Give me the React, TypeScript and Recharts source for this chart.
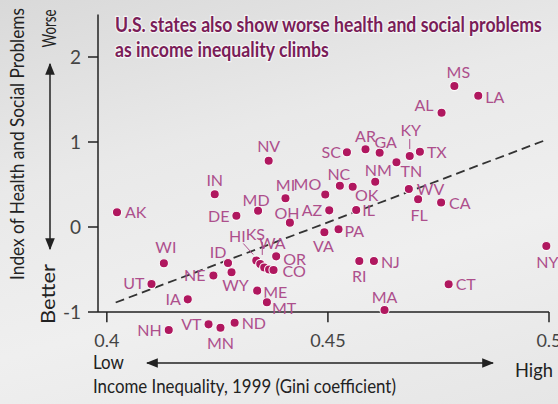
import React, { useLayoutEffect, useRef, useState } from 'react';
import { ScatterChart, Scatter, XAxis, YAxis, ReferenceLine } from 'recharts';

// ---------- data ----------
const states = [
  'AK', 'WI', 'UT', 'IA', 'NE', 'NH', 'VT', 'MN', 'ND', 'ID', 'WY', 'DE', 'IN', 'NV', 'MD', 'MI', 'OH',
  'MO', 'AZ', 'NC', 'OK', 'IL', 'SC', 'AR', 'GA', 'NM', 'TN', 'KY', 'TX', 'WV', 'FL', 'CA', 'PA', 'VA',
  'RI', 'NJ', 'CT', 'MA', 'NY', 'MS', 'LA', 'AL', 'ME', 'MT', 'HI', 'KS', 'WA', 'SD', 'CO', 'OR',
];
const gini = [
  0.4023, 0.4129, 0.4101, 0.4183, 0.4241, 0.414, 0.423, 0.4257, 0.4289, 0.4274, 0.4282, 0.4293, 0.4244,
  0.4366, 0.4342, 0.4404, 0.4414, 0.4494, 0.4503, 0.4527, 0.4556, 0.4564, 0.4543, 0.4585, 0.4617, 0.4607,
  0.4655, 0.4685, 0.4708, 0.4683, 0.4704, 0.4756, 0.4524, 0.4492, 0.4571, 0.4604, 0.4773, 0.4628, 0.4994,
  0.4786, 0.484, 0.4757, 0.434, 0.4362, 0.4338, 0.4347, 0.4356, 0.4367, 0.4377, 0.4383,
];
const healthIndex = [
  0.173, -0.427, -0.671, -0.851, -0.571, -1.212, -1.145, -1.185, -1.126, -0.424, -0.532, 0.132, 0.385,
  0.78, 0.192, 0.338, 0.051, 0.382, 0.196, 0.486, 0.474, 0.2, 0.879, 0.914, 0.874, 0.533,
  0.761, 0.835, 0.886, 0.447, 0.327, 0.288, -0.027, -0.062, -0.4, -0.4, -0.674, -0.976, -0.224,
  1.659, 1.545, 1.345, -0.749, -0.886, -0.394, -0.435, -0.476, -0.5, -0.506, -0.345,
];
const xTicks = [0.4, 0.45, 0.5];
const yTicks = [-1, 0, 1, 2];
const xDomain = [0.398, 0.5];
const yDomain = [-1.35, 2.5];
const trendStart = { x: 0.402, y: -0.888 };
const trendEnd = { x: 0.4995, y: 1.028 };

const rows = states.map((code, i) => ({ code, x: gini[i], y: healthIndex[i] }));

// ---------- label placement (style, pixels relative to the point) ----------
type Place = { dx: number; dy: number; a: 'start' | 'middle' | 'end'; leader?: [number, number, number, number] };
const place: Record<string, Place> = {
  AK: { dx: 8, dy: 6, a: 'start' },
  WI: { dx: 2, dy: -10, a: 'middle' },
  UT: { dx: -7, dy: 5, a: 'end' },
  IA: { dx: -7, dy: 6, a: 'end' },
  NE: { dx: -8, dy: 5, a: 'end' },
  NH: { dx: -7, dy: 6, a: 'end' },
  VT: { dx: -7, dy: 6, a: 'end' },
  MN: { dx: 0, dy: 21, a: 'middle' },
  ND: { dx: 7, dy: 6, a: 'start' },
  ID: { dx: -10, dy: -5, a: 'middle' },
  WY: { dx: 4, dy: 19, a: 'middle' },
  DE: { dx: -7, dy: 6, a: 'end' },
  IN: { dx: 0, dy: -8, a: 'middle' },
  NV: { dx: 0, dy: -9, a: 'middle' },
  MD: { dx: -2, dy: -5, a: 'middle' },
  MI: { dx: 0, dy: -7, a: 'middle' },
  OH: { dx: -3, dy: -4, a: 'middle' },
  MO: { dx: -4, dy: -5, a: 'end' },
  AZ: { dx: -7, dy: 6, a: 'end' },
  NC: { dx: -1, dy: -6, a: 'middle' },
  OK: { dx: 14, dy: 14, a: 'middle' },
  IL: { dx: 6, dy: 6, a: 'start' },
  SC: { dx: -6, dy: 6, a: 'end' },
  AR: { dx: 0, dy: -7, a: 'middle' },
  GA: { dx: 6, dy: -5, a: 'middle' },
  NM: { dx: 3, dy: -6, a: 'middle' },
  TN: { dx: 15, dy: 15, a: 'middle' },
  KY: { dx: 1, dy: -20, a: 'middle', leader: [0, -17, 0, -7] },
  TX: { dx: 7, dy: 6, a: 'start' },
  WV: { dx: 8, dy: 6, a: 'start' },
  FL: { dx: 1, dy: 22, a: 'middle' },
  CA: { dx: 8, dy: 6, a: 'start' },
  PA: { dx: 6, dy: 8, a: 'start' },
  VA: { dx: -1, dy: 20, a: 'middle' },
  RI: { dx: 0, dy: 21, a: 'middle' },
  NJ: { dx: 7, dy: 7, a: 'start' },
  CT: { dx: 7, dy: 6, a: 'start' },
  MA: { dx: 0, dy: -7, a: 'middle' },
  NY: { dx: 1, dy: 22, a: 'middle' },
  MS: { dx: 4, dy: -8, a: 'middle' },
  LA: { dx: 7, dy: 7, a: 'start' },
  AL: { dx: -8, dy: -2, a: 'end' },
  ME: { dx: 6, dy: 7, a: 'start' },
  MT: { dx: 5, dy: 12, a: 'start' },
  HI: { dx: -19, dy: -18, a: 'middle', leader: [-13, -17, -3, -6] },
  KS: { dx: -5, dy: -24, a: 'middle', leader: [2, -22, 2, -9] },
  WA: { dx: 8, dy: -18, a: 'middle' },
  OR: { dx: 7, dy: 9, a: 'start' },
  CO: { dx: 9, dy: 7, a: 'start' },
};

const FONT = "Lato, 'Noto Sans', sans-serif";
const POINT = '#b0175f';
const LABEL = '#ad4f8c';
const TITLE = '#7a1d58';
const INK = '#222';

const PointShape = (props: any) => {
  const { cx, cy } = props;
  return <circle cx={cx} cy={cy} r={4.6} fill={POINT} stroke="#fafafa" strokeWidth={1.1} />;
};

const LabelShape = (props: any) => {
  const { cx, cy, payload } = props;
  const p = place[payload.code];
  if (!p) return <g />;
  return (
    <g>
      {p.leader && (
        <line
          x1={cx + p.leader[0]}
          y1={cy + p.leader[1]}
          x2={cx + p.leader[2]}
          y2={cy + p.leader[3]}
          stroke={LABEL}
          strokeWidth={1}
        />
      )}
      <text x={cx + p.dx} y={cy + p.dy} textAnchor={p.a} fontFamily={FONT} fontSize={16} fill={LABEL}>
        {payload.code}
      </text>
    </g>
  );
};

const XTick = (props: any) => {
  const { x, y, payload } = props;
  return (
    <text x={x} y={y + 5} textAnchor="middle" fontFamily={FONT} fontSize={18} fill="#444">
      {String(payload.value)}
    </text>
  );
};

// text squeezed/stretched along its own line to a given length
const FitText = (props: any) => {
  const { x, y, rotate = 0, width, anchor = 'start', children, ...rest } = props;
  const ref = useRef<SVGTextElement>(null);
  const [s, setS] = useState(1);
  useLayoutEffect(() => {
    if (ref.current) {
      const w = ref.current.getComputedTextLength();
      if (w > 0) setS(width / w);
    }
  }, [width]);
  return (
    <text ref={ref} transform={`translate(${x},${y}) rotate(${rotate}) scale(${s},1)`} textAnchor={anchor} {...rest}>
      {children}
    </text>
  );
};

const Overlay = () => (
  <svg width={558} height={404} style={{ position: 'absolute', left: 0, top: 0, pointerEvents: 'none' }}>
    <defs>
      <marker id="ah" viewBox="0 0 10 10" refX="9" refY="5" markerWidth="8" markerHeight="8" orient="auto-start-reverse">
        <path d="M0,1 L10,5 L0,9 z" fill={INK} />
      </marker>
    </defs>
    <g fontFamily={FONT} fontWeight="bold" fontSize={20} fill={TITLE} stroke="#f4f4f4" strokeWidth={2.5} style={{ paintOrder: 'stroke' } as any}>
      <FitText x={115} y={32} width={427}>U.S. states also show worse health and social problems</FitText>
      <FitText x={115} y={57} width={214}>as income inequality climbs</FitText>
    </g>
    <g fontFamily={FONT} fontSize={20} fill={INK}>
      <FitText x={24} y={144} rotate={-90} anchor="middle" width={272}>
        Index of Health and Social Problems
      </FitText>
      <FitText x={56} y={28.5} rotate={-90} anchor="middle" width={38}>Worse</FitText>
      <FitText x={55} y={294} rotate={-90} anchor="middle" width={60}>Better</FitText>
      <FitText x={93} y={369} width={31}>Low</FitText>
      <FitText x={515} y={377} width={38}>High</FitText>
      <FitText x={93} y={393} width={303}>Income Inequality, 1999 (Gini coefficient)</FitText>
    </g>
    <line x1={50} y1={64} x2={50} y2={249} stroke={INK} strokeWidth={1.5} markerStart="url(#ah)" markerEnd="url(#ah)" />
    <line x1={147} y1={363} x2={493} y2={363} stroke={INK} strokeWidth={1.5} markerStart="url(#ah)" markerEnd="url(#ah)" />
  </svg>
);

export default function App() {
  return (
    <div
      style={{
        position: 'absolute',
        left: 0,
        top: 0,
        width: 558,
        height: 404,
        overflow: 'hidden',
        background: 'linear-gradient(165deg, #d9d9d9 0%, #e9e9e9 35%, #efefef 65%, #e6e6e6 100%)',
      }}
    >
      <ScatterChart width={558} height={404} margin={{ top: 14.5, right: 9, bottom: 0, left: 0 }}>
        <XAxis
          type="number"
          dataKey="x"
          domain={xDomain}
          ticks={xTicks}
          height={62.25}
          axisLine={false}
          tickLine={false}
          tickSize={0}
          tickMargin={0}
          tick={<XTick />}
          interval={0}
        />
        <YAxis
          type="number"
          dataKey="y"
          domain={yDomain}
          ticks={yTicks}
          width={98}
          axisLine={false}
          tickSize={10}
          tickMargin={7}
          tickLine={{ stroke: INK, strokeWidth: 1.5 }}
          tick={{ fontFamily: FONT, fontSize: 19, fill: '#444' }}
          interval={0}
        />
        <ReferenceLine
          segment={[{ x: xDomain[0], y: -1 }, { x: xDomain[1], y: -1 }]}
          stroke={INK}
          strokeWidth={1.5}
          ifOverflow="visible"
        />
        <ReferenceLine
          segment={[{ x: xDomain[0], y: -1 }, { x: xDomain[0], y: yDomain[1] }]}
          stroke={INK}
          strokeWidth={1.5}
          ifOverflow="visible"
        />
        {xTicks.map((t) => (
          <ReferenceLine
            key={t}
            segment={[{ x: t, y: -1 }, { x: t, y: -1.12 }]}
            stroke={INK}
            strokeWidth={1.5}
            ifOverflow="visible"
          />
        ))}
        <Scatter data={rows} shape={<LabelShape />} isAnimationActive={false} />
        <ReferenceLine
          segment={[trendStart, trendEnd]}
          stroke="#333"
          strokeWidth={1.8}
          strokeDasharray="9 5"
          ifOverflow="visible"
        />
        <Scatter data={rows} shape={<PointShape />} isAnimationActive={false} />
      </ScatterChart>
      <Overlay />
    </div>
  );
}
